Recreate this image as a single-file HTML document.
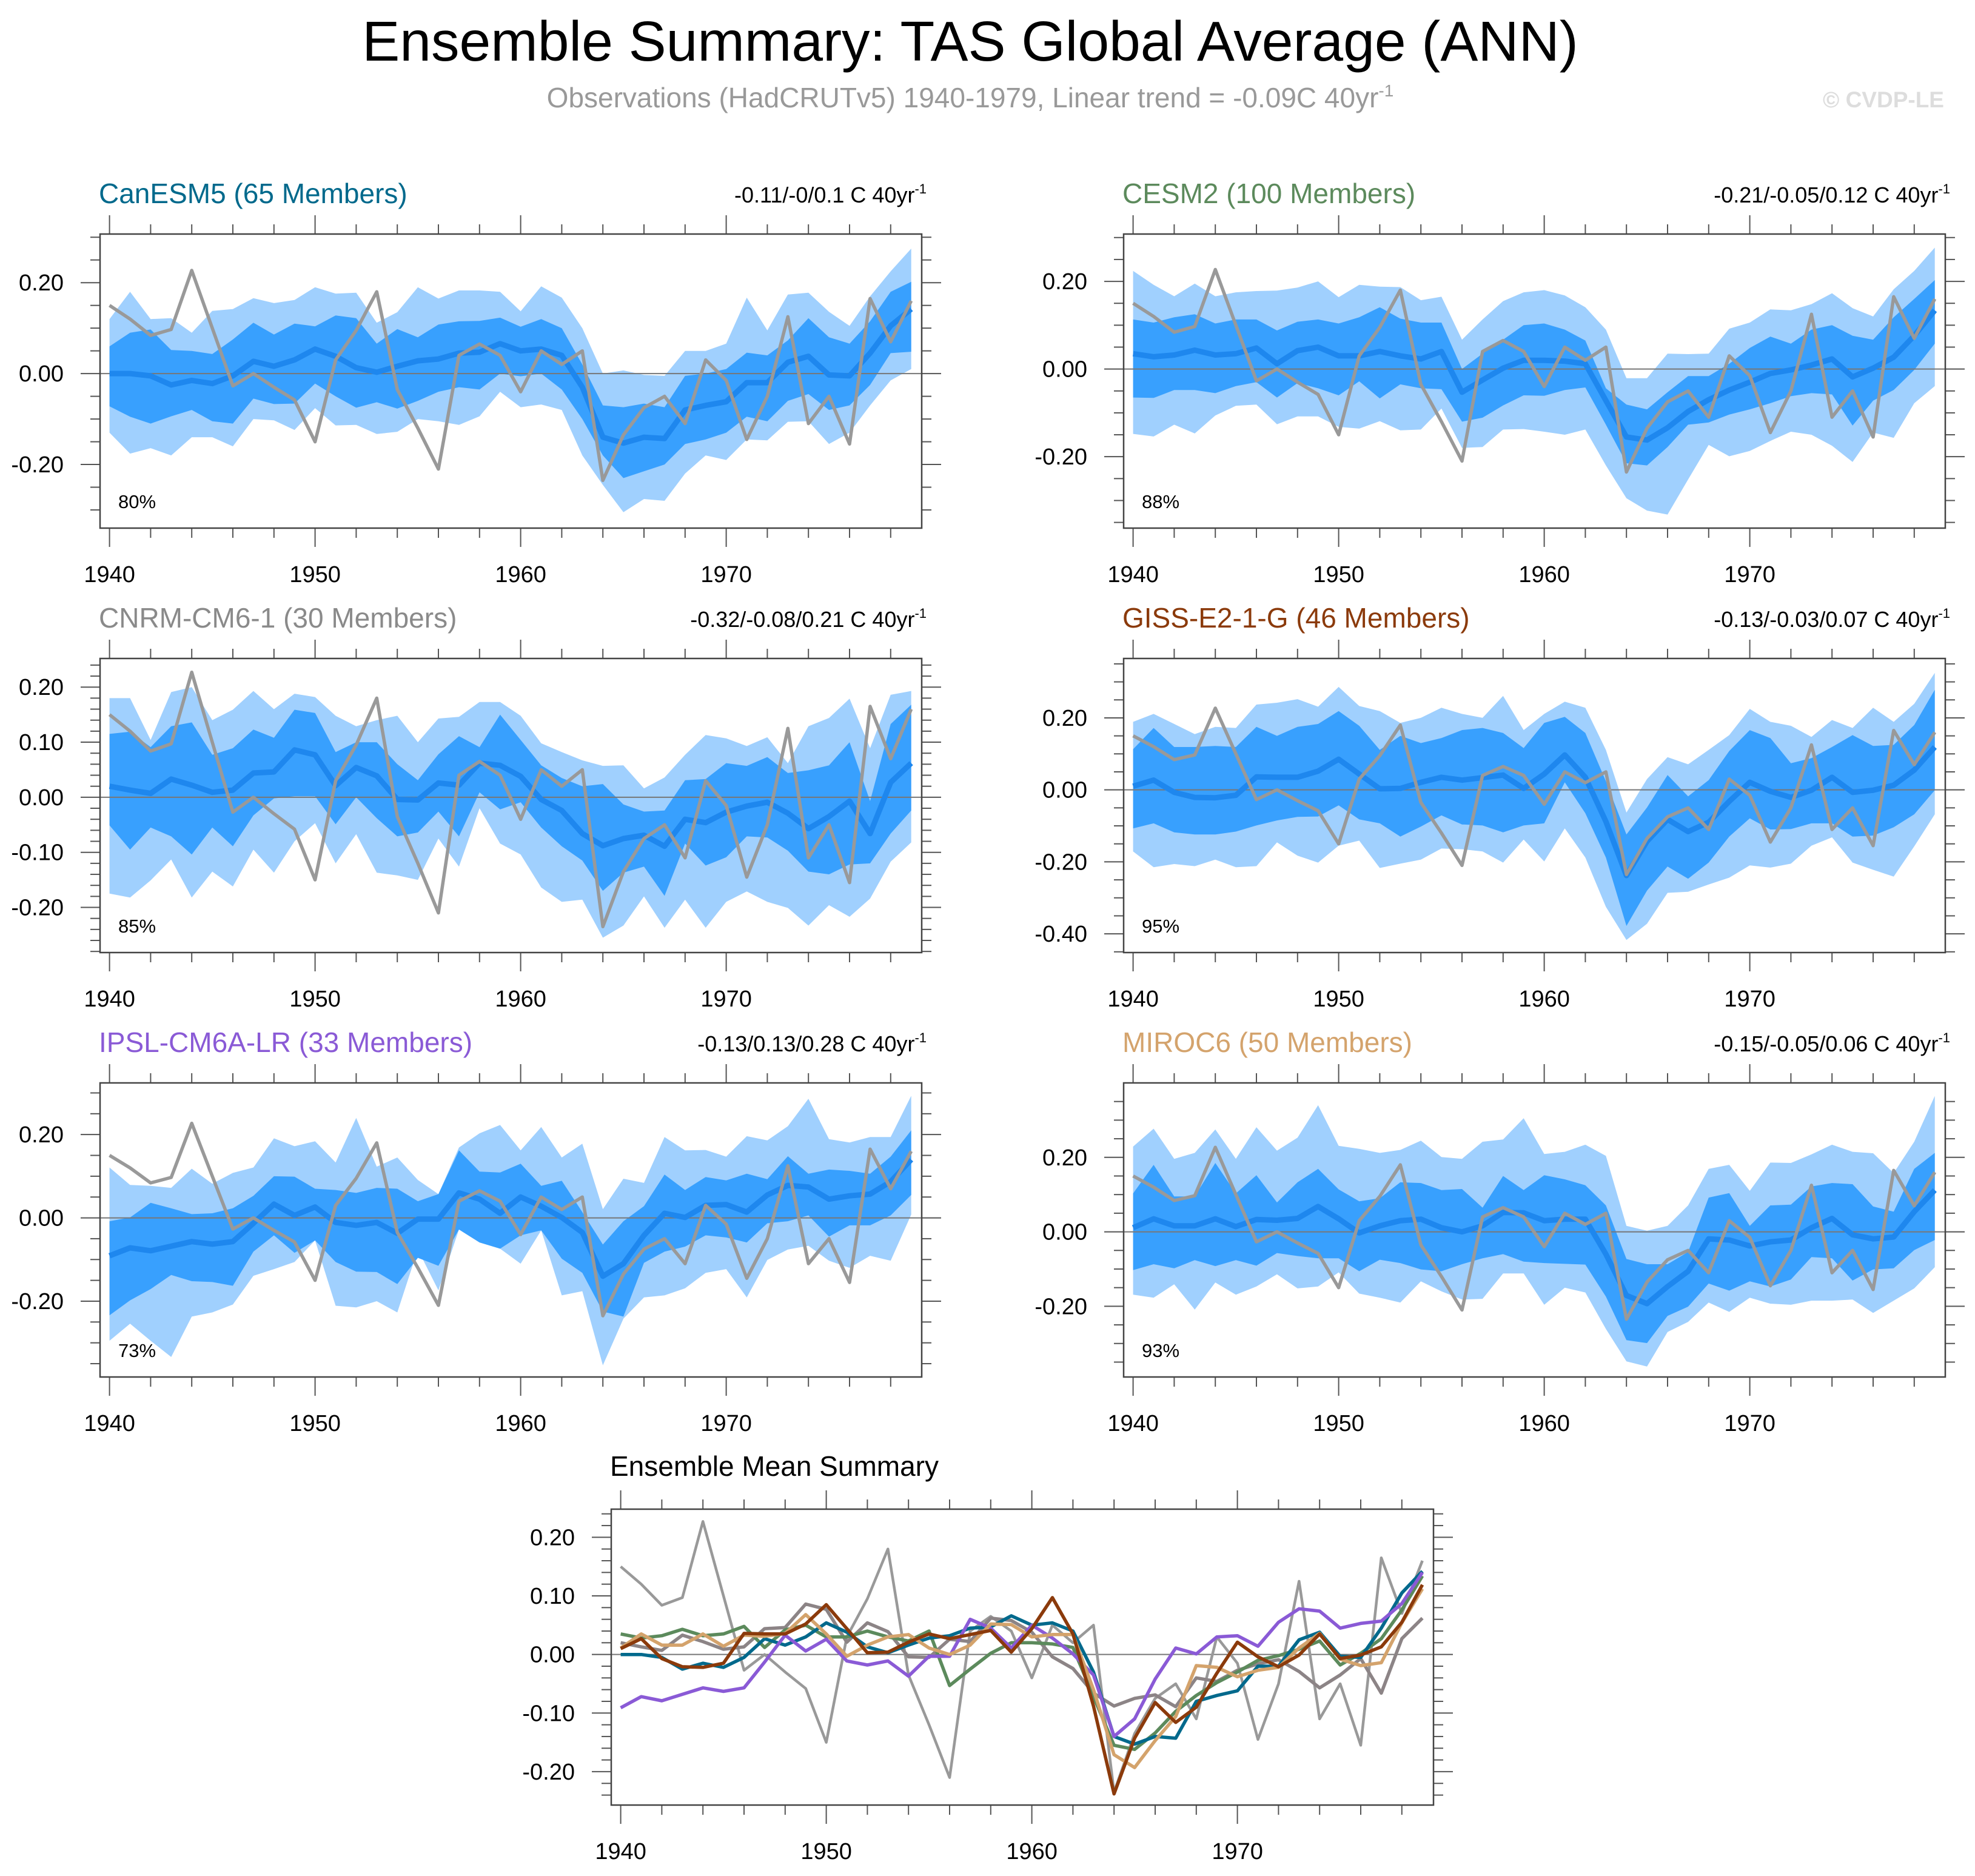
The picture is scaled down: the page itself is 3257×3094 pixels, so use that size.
<!DOCTYPE html>
<html><head><meta charset="utf-8"><title>Ensemble Summary</title>
<style>
html,body{margin:0;padding:0;background:#fff;}
svg{display:block;font-family:"Liberation Sans",Arial,sans-serif;}
</style></head>
<body>
<svg id="fig" xmlns="http://www.w3.org/2000/svg" width="3257" height="3094" viewBox="0 0 3257 3094">
<rect x="0" y="0" width="3257" height="3094" fill="#fff"/>
<text x="1600" y="100" font-size="93" text-anchor="middle" fill="#000">Ensemble Summary: TAS Global Average (ANN)</text>
<text x="1600" y="177" font-size="46" text-anchor="middle" fill="#999">Observations (HadCRUTv5) 1940-1979, Linear trend = -0.09C 40yr<tspan dy="-18" font-size="28">-1</tspan></text>
<text x="3206" y="177" font-size="37" font-weight="bold" text-anchor="end" fill="#ddd">© CVDP-LE</text>
<g id="panels"></g>
</svg>
<script>
const years = Array.from({length:40},(_,i)=>1940+i);
const obs = [0.15,0.12,0.084,0.097,0.227,0.10,-0.027,0.0,-0.03,-0.058,-0.15,0.03,0.095,0.18,-0.035,-0.12,-0.21,0.04,0.065,0.04,-0.04,0.05,0.02,0.05,-0.235,-0.135,-0.075,-0.05,-0.11,0.03,-0.015,-0.145,-0.05,0.125,-0.11,-0.05,-0.155,0.165,0.07,0.16];

const canMean = [0,0,-0.005,-0.025,-0.015,-0.022,-0.005,0.027,0.016,0.03,0.054,0.038,0.013,0.003,0.016,0.028,0.032,0.045,0.047,0.066,0.05,0.054,0.04,-0.03,-0.14,-0.153,-0.14,-0.143,-0.08,-0.07,-0.062,-0.02,-0.02,0.025,0.038,-0.003,-0.005,0.045,0.105,0.142];
const canInUp = [0.06,0.09,0.097,0.052,0.05,0.043,0.075,0.112,0.086,0.11,0.104,0.128,0.122,0.066,0.098,0.08,0.108,0.115,0.116,0.123,0.103,0.12,0.1,0.02,-0.07,-0.074,-0.066,-0.074,-0.005,0.0,0.01,0.046,0.04,0.073,0.122,0.08,0.066,0.115,0.18,0.202];
const canInLo = [-0.072,-0.095,-0.11,-0.094,-0.08,-0.105,-0.11,-0.055,-0.067,-0.066,-0.022,-0.05,-0.075,-0.063,-0.077,-0.06,-0.04,-0.03,-0.035,0.0,-0.006,0.0,-0.035,-0.1,-0.18,-0.23,-0.215,-0.2,-0.155,-0.145,-0.13,-0.095,-0.105,-0.06,-0.045,-0.08,-0.07,-0.025,0.045,0.048];
const canOutUp = [0.12,0.18,0.12,0.122,0.09,0.138,0.142,0.166,0.155,0.162,0.19,0.176,0.178,0.112,0.135,0.19,0.165,0.183,0.183,0.18,0.137,0.192,0.167,0.1,0.0,0.007,-0.003,-0.005,0.05,0.05,0.066,0.167,0.095,0.174,0.178,0.136,0.105,0.17,0.225,0.275];
const canOutLo = [-0.13,-0.176,-0.164,-0.18,-0.14,-0.14,-0.16,-0.1,-0.103,-0.124,-0.076,-0.114,-0.113,-0.133,-0.128,-0.1,-0.105,-0.113,-0.094,-0.04,-0.074,-0.068,-0.08,-0.18,-0.245,-0.305,-0.276,-0.28,-0.22,-0.18,-0.19,-0.145,-0.147,-0.106,-0.105,-0.155,-0.13,-0.07,-0.015,0.01];

const cesMean = [0.035,0.028,0.032,0.043,0.032,0.035,0.048,0.012,0.042,0.05,0.03,0.03,0.04,0.03,0.023,0.04,-0.053,-0.025,0.002,0.02,0.02,0.018,0.012,-0.072,-0.155,-0.162,-0.134,-0.097,-0.07,-0.048,-0.03,-0.01,-0.002,0.009,0.023,-0.018,0.002,0.027,0.076,0.134];
const cesInUp = [0.113,0.106,0.118,0.125,0.104,0.113,0.113,0.088,0.108,0.113,0.104,0.118,0.141,0.115,0.106,0.106,0.0,0.035,0.067,0.1,0.104,0.09,0.065,-0.044,-0.081,-0.092,-0.053,-0.016,-0.016,0.012,0.048,0.074,0.058,0.09,0.1,0.076,0.067,0.118,0.16,0.203];
const cesInLo = [-0.065,-0.066,-0.048,-0.048,-0.055,-0.039,-0.03,-0.065,-0.032,-0.044,-0.06,-0.028,-0.067,-0.035,-0.044,-0.046,-0.12,-0.111,-0.083,-0.06,-0.061,-0.048,-0.042,-0.127,-0.215,-0.22,-0.178,-0.127,-0.122,-0.104,-0.092,-0.078,-0.062,-0.055,-0.058,-0.129,-0.072,-0.048,-0.002,0.058];
const cesOutUp = [0.224,0.192,0.166,0.195,0.166,0.175,0.178,0.179,0.186,0.2,0.164,0.192,0.188,0.187,0.157,0.165,0.067,0.113,0.155,0.175,0.18,0.168,0.141,0.09,-0.021,-0.021,0.035,0.034,0.035,0.092,0.106,0.136,0.134,0.148,0.173,0.139,0.12,0.182,0.224,0.277];
const cesOutLo = [-0.148,-0.154,-0.127,-0.147,-0.106,-0.084,-0.081,-0.126,-0.108,-0.108,-0.132,-0.136,-0.119,-0.14,-0.138,-0.09,-0.18,-0.178,-0.138,-0.137,-0.143,-0.15,-0.138,-0.22,-0.295,-0.323,-0.332,-0.252,-0.173,-0.199,-0.187,-0.164,-0.143,-0.15,-0.175,-0.212,-0.145,-0.157,-0.078,-0.039];

const cnrMean = [0.02,0.013,0.007,0.033,0.022,0.009,0.013,0.044,0.046,0.086,0.077,0.021,0.054,0.039,-0.004,-0.005,0.026,0.022,0.062,0.058,0.038,-0.004,-0.024,-0.066,-0.088,-0.075,-0.069,-0.089,-0.04,-0.046,-0.027,-0.016,-0.009,-0.029,-0.057,-0.035,-0.007,-0.066,0.027,0.062];
const cnrInUp = [0.115,0.119,0.091,0.129,0.136,0.077,0.089,0.123,0.108,0.159,0.153,0.082,0.1,0.1,0.06,0.031,0.078,0.111,0.091,0.15,0.104,0.058,0.035,0.02,0.024,-0.013,-0.026,-0.024,0.031,0.033,0.062,0.057,0.073,0.044,0.049,0.058,0.1,-0.007,0.133,0.168];
const cnrInLo = [-0.051,-0.095,-0.055,-0.071,-0.104,-0.055,-0.089,-0.033,-0.002,0.002,0.002,-0.049,0.0,-0.038,-0.071,-0.064,-0.026,-0.071,0.009,-0.022,-0.009,-0.055,-0.089,-0.115,-0.17,-0.137,-0.126,-0.179,-0.084,-0.124,-0.109,-0.071,-0.073,-0.097,-0.135,-0.14,-0.122,-0.12,-0.066,-0.024];
const cnrOutUp = [0.18,0.18,0.104,0.191,0.2,0.14,0.159,0.193,0.16,0.188,0.182,0.148,0.129,0.14,0.148,0.1,0.143,0.146,0.173,0.173,0.148,0.098,0.082,0.067,0.057,0.058,0.016,0.036,0.077,0.113,0.107,0.093,0.109,0.062,0.129,0.144,0.179,0.089,0.186,0.193];
const cnrOutLo = [-0.175,-0.182,-0.151,-0.113,-0.182,-0.135,-0.162,-0.095,-0.137,-0.08,-0.047,-0.12,-0.067,-0.137,-0.142,-0.15,-0.075,-0.126,-0.02,-0.084,-0.104,-0.164,-0.19,-0.186,-0.255,-0.233,-0.18,-0.237,-0.186,-0.237,-0.19,-0.171,-0.19,-0.201,-0.233,-0.196,-0.217,-0.184,-0.117,-0.082];

const gisMean = [0.01,0.027,-0.007,-0.021,-0.022,-0.015,0.036,0.035,0.035,0.052,0.085,0.044,0.003,0.004,0.021,0.035,0.027,0.034,0.041,0.004,0.044,0.097,0.035,-0.088,-0.238,-0.143,-0.082,-0.116,-0.09,-0.032,0.021,-0.004,-0.021,-0.001,0.035,-0.007,-0.001,0.013,0.055,0.119];
const gisInUp = [0.113,0.172,0.119,0.119,0.122,0.119,0.175,0.15,0.175,0.183,0.219,0.178,0.111,0.15,0.13,0.144,0.166,0.172,0.158,0.116,0.186,0.203,0.158,0.024,-0.124,-0.049,0.041,-0.018,0.027,0.108,0.166,0.144,0.074,0.088,0.119,0.152,0.122,0.125,0.18,0.278];
const gisInLo = [-0.107,-0.093,-0.118,-0.124,-0.124,-0.116,-0.099,-0.085,-0.075,-0.074,-0.043,-0.082,-0.093,-0.13,-0.102,-0.071,-0.096,-0.099,-0.118,-0.099,-0.093,0.021,-0.065,-0.188,-0.378,-0.28,-0.213,-0.247,-0.202,-0.13,-0.079,-0.11,-0.109,-0.093,-0.093,-0.13,-0.127,-0.104,-0.068,-0.001];
const gisOutUp = [0.189,0.211,0.183,0.155,0.175,0.172,0.237,0.242,0.252,0.231,0.286,0.233,0.219,0.186,0.2,0.228,0.211,0.2,0.261,0.166,0.211,0.245,0.228,0.111,-0.063,0.03,0.091,0.071,0.111,0.152,0.225,0.189,0.178,0.147,0.194,0.172,0.228,0.189,0.239,0.325];
const gisOutLo = [-0.171,-0.215,-0.206,-0.212,-0.194,-0.215,-0.212,-0.146,-0.183,-0.202,-0.155,-0.141,-0.217,-0.205,-0.194,-0.163,-0.165,-0.171,-0.202,-0.138,-0.199,-0.107,-0.188,-0.325,-0.417,-0.372,-0.286,-0.283,-0.263,-0.244,-0.21,-0.216,-0.205,-0.155,-0.132,-0.202,-0.222,-0.241,-0.157,-0.068];

const ipsMean = [-0.091,-0.072,-0.079,-0.068,-0.057,-0.063,-0.057,-0.013,0.033,0.006,0.026,-0.011,-0.018,-0.011,-0.037,-0.003,-0.003,0.06,0.045,0.011,0.05,0.028,0.001,-0.035,-0.14,-0.11,-0.042,0.011,0.001,0.03,0.032,0.014,0.055,0.078,0.074,0.045,0.053,0.057,0.087,0.14];
const ipsInUp = [-0.008,0.001,0.036,0.023,0.009,0.011,0.023,0.053,0.1,0.099,0.07,0.067,0.06,0.072,0.07,0.04,0.057,0.162,0.111,0.109,0.13,0.077,0.089,0.014,-0.064,-0.008,0.028,0.104,0.067,0.098,0.09,0.106,0.093,0.148,0.106,0.116,0.113,0.106,0.147,0.21];
const ipsInLo = [-0.234,-0.198,-0.171,-0.137,-0.152,-0.154,-0.163,-0.081,-0.042,-0.084,-0.054,-0.106,-0.129,-0.13,-0.159,-0.096,-0.115,-0.028,-0.059,-0.074,-0.042,-0.03,-0.098,-0.132,-0.225,-0.237,-0.108,-0.081,-0.069,-0.042,-0.047,-0.059,-0.013,-0.008,0.006,-0.045,-0.018,-0.018,0.006,0.055];
const ipsOutUp = [0.121,0.079,0.077,0.072,0.118,0.082,0.108,0.121,0.191,0.172,0.184,0.133,0.24,0.123,0.145,0.091,0.057,0.169,0.203,0.223,0.162,0.218,0.145,0.178,0.021,0.094,0.084,0.194,0.162,0.163,0.147,0.196,0.186,0.22,0.286,0.189,0.181,0.194,0.194,0.293];
const ipsOutLo = [-0.295,-0.254,-0.295,-0.334,-0.237,-0.227,-0.208,-0.139,-0.123,-0.106,-0.054,-0.211,-0.215,-0.2,-0.227,-0.076,-0.174,-0.028,-0.059,-0.074,-0.11,-0.03,-0.186,-0.176,-0.354,-0.242,-0.191,-0.186,-0.169,-0.132,-0.123,-0.191,-0.101,-0.076,-0.067,-0.103,-0.12,-0.091,-0.103,0.008];

const mirMean = [0.011,0.035,0.016,0.016,0.035,0.014,0.033,0.031,0.036,0.068,0.035,-0.003,0.016,0.03,0.034,0.011,0,0.016,0.052,0.051,0.03,0.034,0.034,-0.06,-0.171,-0.193,-0.147,-0.106,-0.019,-0.022,-0.038,-0.027,-0.022,0.011,0.036,-0.008,-0.019,-0.014,0.054,0.112];
const mirInUp = [0.103,0.18,0.095,0.095,0.185,0.103,0.152,0.079,0.133,0.169,0.114,0.082,0.09,0.133,0.131,0.112,0.115,0.065,0.15,0.112,0.152,0.141,0.125,0.071,-0.073,-0.087,-0.087,-0.054,0.092,0.104,0.016,0.071,0.073,0.122,0.131,0.128,0.068,0.054,0.169,0.212];
const mirInLo = [-0.103,-0.087,-0.098,-0.076,-0.092,-0.076,-0.091,-0.057,-0.065,-0.071,-0.071,-0.106,-0.075,-0.084,-0.101,-0.106,-0.087,-0.071,-0.06,-0.08,-0.084,-0.086,-0.088,-0.174,-0.291,-0.299,-0.226,-0.201,-0.139,-0.158,-0.133,-0.147,-0.128,-0.068,-0.071,-0.131,-0.101,-0.098,-0.049,-0.022];
const mirOutUp = [0.229,0.277,0.196,0.212,0.275,0.196,0.281,0.218,0.253,0.34,0.231,0.223,0.212,0.22,0.245,0.201,0.196,0.242,0.248,0.305,0.209,0.215,0.234,0.204,0.016,0.003,0.016,0.071,0.169,0.18,0.11,0.186,0.185,0.208,0.234,0.215,0.211,0.158,0.242,0.365];
const mirOutLo = [-0.169,-0.177,-0.141,-0.209,-0.136,-0.169,-0.147,-0.114,-0.152,-0.147,-0.109,-0.166,-0.177,-0.19,-0.133,-0.16,-0.182,-0.18,-0.112,-0.112,-0.196,-0.15,-0.163,-0.261,-0.348,-0.362,-0.269,-0.242,-0.19,-0.215,-0.177,-0.193,-0.196,-0.185,-0.185,-0.182,-0.218,-0.185,-0.152,-0.095];

const modelNames = ["CanESM5 (65 Members)","CESM2 (100 Members)","CNRM-CM6-1 (30 Members)","GISS-E2-1-G (46 Members)","IPSL-CM6A-LR (33 Members)","MIROC6 (50 Members)"];
const trendLabels = ["-0.11/-0/0.1 C 40yr","-0.21/-0.05/0.12 C 40yr","-0.32/-0.08/0.21 C 40yr","-0.13/-0.03/0.07 C 40yr","-0.13/0.13/0.28 C 40yr","-0.15/-0.05/0.06 C 40yr"];
const pctLabels = ["80%","88%","85%","95%","73%","93%"];
const xTickLabels = [1940,1950,1960,1970];

const NS="http://www.w3.org/2000/svg";
const root=document.getElementById('panels');
function mk(tag,attrs,parent){const e=document.createElementNS(NS,tag);for(const k in attrs)e.setAttribute(k,attrs[k]);(parent||root).appendChild(e);return e;}

const modelColors=["#00698c","#5c8a5c","#8a8a8a","#8b3a0b","#8a5ad6","#d4a36c"];
const summaryColors=["#00698c","#5c8a5c","#8c8486","#8b3a0b","#8a5ad6","#d4a36c"];
const means=[canMean,cesMean,cnrMean,gisMean,ipsMean,mirMean];
const bands=[[canInUp,canInLo,canOutUp,canOutLo],[cesInUp,cesInLo,cesOutUp,cesOutLo],[cnrInUp,cnrInLo,cnrOutUp,cnrOutLo],[gisInUp,gisInLo,gisOutUp,gisOutLo],[ipsInUp,ipsInLo,ipsOutUp,ipsOutLo],[mirInUp,mirInLo,mirOutUp,mirOutLo]];
const panelGeom=[
 {x0:165,x1:1520,y0:386,vTop:0.307,vBot:-0.34,major:0.2,minor:0.05},
 {x0:1853,x1:3208,y0:386,vTop:0.308,vBot:-0.363,major:0.2,minor:0.05},
 {x0:165,x1:1520,y0:1086,vTop:0.252,vBot:-0.282,major:0.1,minor:0.02},
 {x0:1853,x1:3208,y0:1086,vTop:0.365,vBot:-0.452,major:0.2,minor:0.05},
 {x0:165,x1:1520,y0:1786,vTop:0.324,vBot:-0.382,major:0.2,minor:0.05},
 {x0:1853,x1:3208,y0:1786,vTop:0.40,vBot:-0.39,major:0.2,minor:0.05}
];
const H=485, YEARW=33.9;

function axes(g,geom,h){
  const xs=y=>geom.x0+15.6+(y-1940)*YEARW;
  const ys=v=>geom.y0+(geom.vTop-v)/(geom.vTop-geom.vBot)*h;
  for(let yr=1940;yr<=1978;yr+=2){
    const maj=yr%10===0, L=maj?31:16, x=xs(yr);
    mk('line',{x1:x,x2:x,y1:geom.y0,y2:geom.y0-L,stroke:'#555','stroke-width':2},g);
    mk('line',{x1:x,x2:x,y1:geom.y0+h,y2:geom.y0+h+L,stroke:'#555','stroke-width':2},g);
  }
  xTickLabels.forEach(yr=>{
    const t=mk('text',{x:xs(yr),y:geom.y0+h+89,'font-size':38,'text-anchor':'middle',fill:'#000'},g);
    
    
    t.textContent=yr;
  });
  const nMin=Math.ceil((geom.vBot+1e-9)/geom.minor), nMax=Math.floor((geom.vTop-1e-9)/geom.minor);
  for(let k=nMin;k<=nMax;k++){
    const v=k*geom.minor, y=ys(v);
    const r=Math.abs(v/geom.major-Math.round(v/geom.major))<1e-6, L=r?32:16;
    mk('line',{x1:geom.x0,x2:geom.x0-L,y1:y,y2:y,stroke:'#555','stroke-width':2},g);
    mk('line',{x1:geom.x1,x2:geom.x1+L,y1:y,y2:y,stroke:'#555','stroke-width':2},g);
    if(r){
      const t=mk('text',{x:geom.x0-60,y:y+13,'font-size':38,'text-anchor':'end',fill:'#000'},g);
      
      
      t.textContent=v.toFixed(2);
    }
  }
  return {xs,ys};
}
function pts(arr,xs,ys){return arr.map((v,i)=>xs(years[i]).toFixed(1)+','+ys(v).toFixed(1)).join(' ');}
function bandPts(up,lo,xs,ys){return pts(up,xs,ys)+' '+lo.map((v,i)=>xs(years[i]).toFixed(1)+','+ys(v).toFixed(1)).reverse().join(' ');}

panelGeom.forEach((geom,p)=>{
  const g=mk('g',{});
  
  
  const ttl=mk('text',{x:geom.x0-2,y:geom.y0-51,'font-size':46,fill:modelColors[p]},g);
  
  
  ttl.textContent=modelNames[p];
  const tr=mk('text',{x:geom.x1+8,y:geom.y0-52,'font-size':36,'text-anchor':'end',fill:'#000'},g);
  
  
  tr.textContent=trendLabels[p];
  const sup=mk('tspan',{dy:-15,'font-size':22},tr); sup.textContent='-1';
  const a=axes(g,geom,H);
  const [iu,il,ou,ol]=bands[p];
  const outer=mk('polygon',{points:bandPts(ou,ol,a.xs,a.ys),fill:'#a0d0fe'},g);
  
  
  const inner=mk('polygon',{points:bandPts(iu,il,a.xs,a.ys),fill:'#38a0fe'},g);
  
  
  mk('line',{x1:geom.x0,x2:geom.x1,y1:a.ys(0),y2:a.ys(0),stroke:'#777','stroke-width':2},g);
  const ml=mk('polyline',{points:pts(means[p],a.xs,a.ys),fill:'none',stroke:'#1e87ee','stroke-width':9,'stroke-linejoin':'round'},g);
  
  
  const ol2=mk('polyline',{points:pts(obs,a.xs,a.ys),fill:'none',stroke:'#999','stroke-width':5.5,'stroke-linejoin':'round'},g);
  
  
  mk('rect',{x:geom.x0,y:geom.y0,width:geom.x1-geom.x0,height:H,fill:'none',stroke:'#444','stroke-width':2.5},g);
  const pc=mk('text',{x:geom.x0+30,y:geom.y0+H-33,'font-size':31,fill:'#000'},g);
  
  
  pc.textContent=pctLabels[p];
});

const sg=mk('g',{});


const sgeom={x0:1008,x1:2364,y0:2489,vTop:0.248,vBot:-0.257,major:0.1,minor:0.02};
const st=mk('text',{x:1006,y:2434,'font-size':46,fill:'#000'},sg);


st.textContent='Ensemble Mean Summary';
const sa=axes(sg,sgeom,488);
mk('line',{x1:sgeom.x0,x2:sgeom.x1,y1:sa.ys(0),y2:sa.ys(0),stroke:'#777','stroke-width':2},sg);
const so=mk('polyline',{points:pts(obs,sa.xs,sa.ys),fill:'none',stroke:'#999','stroke-width':4.5,'stroke-linejoin':'round'},sg);


[2,1,0,4,5,3].forEach(p=>{
  const l=mk('polyline',{points:pts(means[p],sa.xs,sa.ys),fill:'none',stroke:summaryColors[p],'stroke-width':5.5,'stroke-linejoin':'round'},sg);
  
  
});
mk('rect',{x:sgeom.x0,y:sgeom.y0,width:sgeom.x1-sgeom.x0,height:488,fill:'none',stroke:'#444','stroke-width':2.5},sg);
</script>
</body></html>
